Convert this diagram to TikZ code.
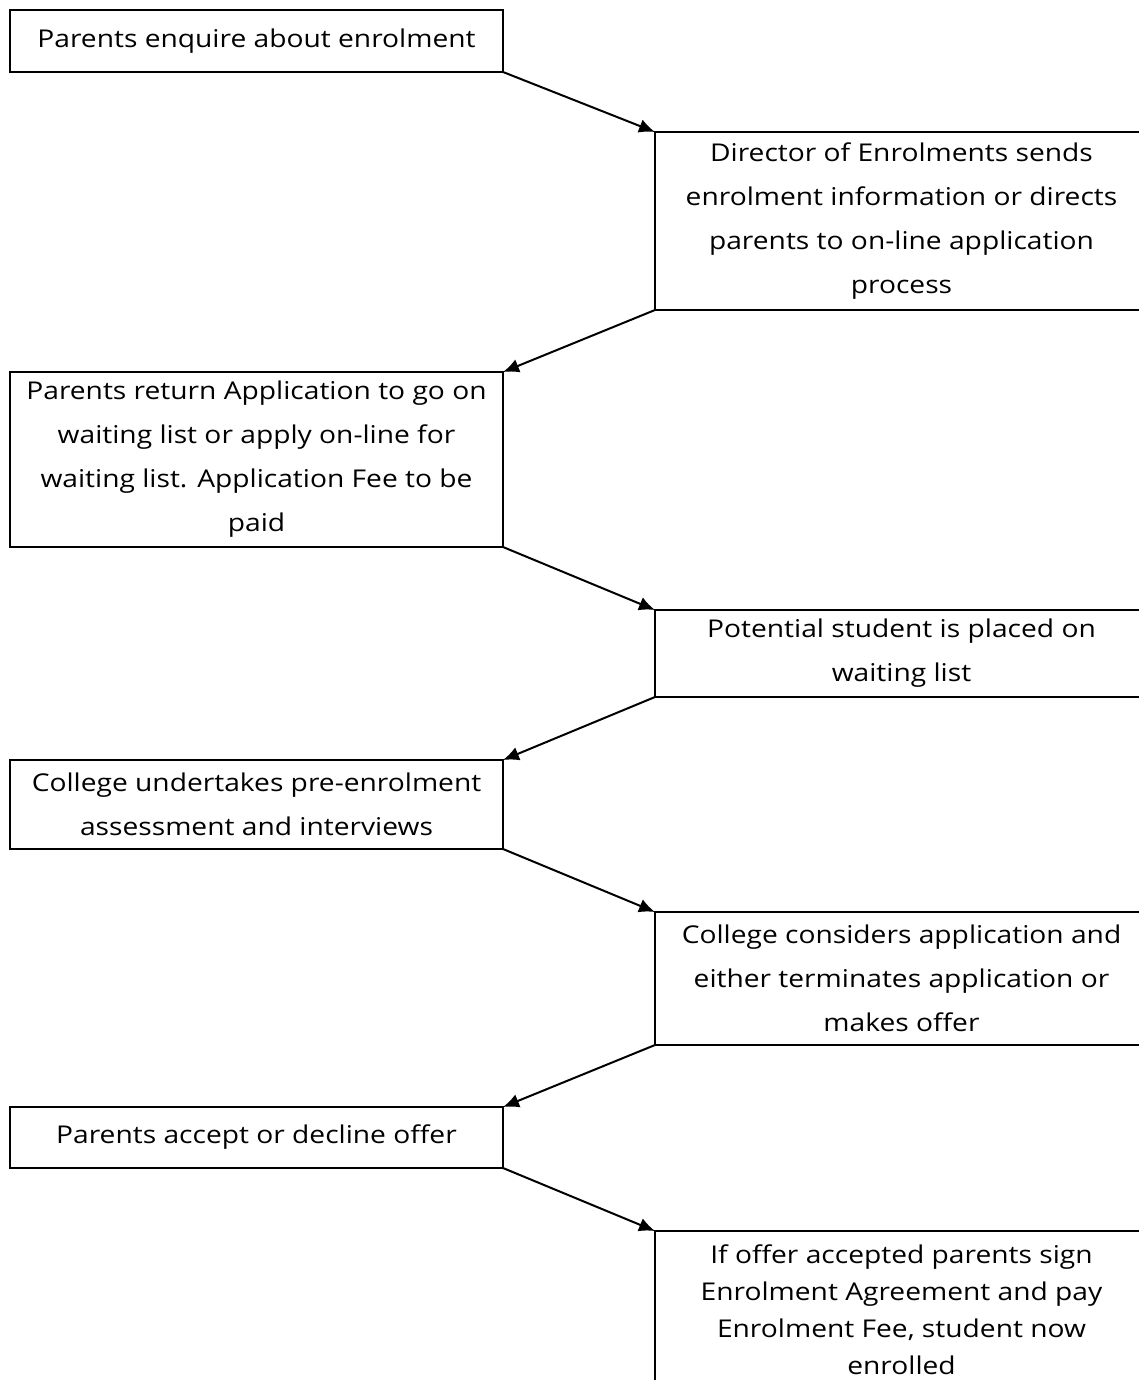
\documentclass[tikz,border=0pt]{standalone}
\usepackage{fontspec}
\setmainfont{Open Sans}[FakeStretch=1.15]
\usetikzlibrary{arrows.meta,positioning}

\begin{document}
\begin{tikzpicture}[
	stage/.style={draw, line width=2pt, outer sep=0pt, minimum width=493pt, align=center,
		font=\fontsize{24.5}{44}\selectfont},
	node distance=62pt and 152pt,
	>={Latex[length=16pt,width=14pt]},
	every edge/.style={draw, line width=2pt}]
	\useasboundingbox (0,0) rectangle (1139pt,-1380pt);
	
	\node[stage, minimum height=62pt, anchor=north west] (enquire) at (10pt,-10pt) {Parents enquire about enrolment};
	\node[stage, minimum height=178pt] (director)[below right=60pt and 152pt of enquire.south east] {Director of Enrolments sends\\ enrolment information or directs\\ parents to on-line application\\ process};
	\node[stage, minimum height=175pt] (apply)[below left=of director.south west] {Parents return Application to go on\\ waiting list or apply on-line for\\ waiting list. Application Fee to be\\ paid};
	\node[stage, minimum height=87pt] (waiting)[below right=63pt and 152pt of apply.south east] {Potential student is placed on\\ waiting list};
	\node[stage, minimum height=89pt] (assess)[below left=63pt and 152pt of waiting.south west] {College undertakes pre-enrolment\\ assessment and interviews};
	\node[stage, minimum height=133pt] (consider)[below right=63pt and 152pt of assess.south east] {College considers application and\\ either terminates application or\\ makes offer};
	\node[stage, minimum height=61pt] (accept)[below left=of consider.south west] {Parents accept or decline offer};
	\node[stage, minimum height=158pt, font=\fontsize{24.5}{37}\selectfont] (enrolled)[below right=63pt and 152pt of accept.south east] {If offer accepted parents sign\\ Enrolment Agreement and pay\\ Enrolment Fee, student now\\ enrolled};
	
	\path[->]
	(enquire.south east) edge (director.north west)
	(director.south west) edge (apply.north east)
	(apply.south east) edge (waiting.north west)
	(waiting.south west) edge (assess.north east)
	(assess.south east) edge (consider.north west)
	(consider.south west) edge (accept.north east)
	(accept.south east) edge (enrolled.north west);
\end{tikzpicture}
\end{document}
